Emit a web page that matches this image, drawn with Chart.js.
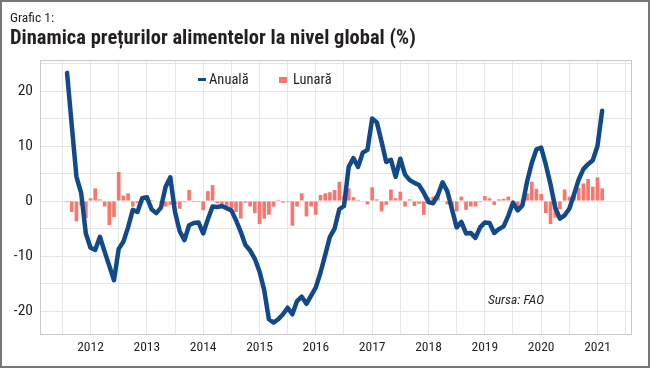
<!DOCTYPE html>
<html lang="ro">
<head>
<meta charset="utf-8">
<script src="https://cdn.jsdelivr.net/npm/chart.js@4.4.1/dist/chart.umd.min.js"></script>
<style>
  html, body { margin: 0; padding: 0; background: #fff; }
  #cadru { position: relative; width: 650px; height: 368px; overflow: hidden;
    font-family: "Roboto Condensed", "DejaVu Sans Condensed", sans-serif; color: #231f20; }
  #cadru div { position: absolute; white-space: nowrap; }
  #grafic { position: absolute; left: 0; top: 0; }
  #margine { left: 0; top: 0; width: 650px; height: 368px; box-sizing: border-box;
    border: 2px solid #767676; pointer-events: none; }
  #eticheta { left: 10px; top: 9px; font-size: 13.5px; line-height: 16px; }
  #titlu { left: 10px; top: 25px; font-size: 20.5px; line-height: 24px; font-weight: bold; }
  .text-legenda { top: 72px; font-size: 14.5px; line-height: 16px; }
  #cheie-linie { left: 198px; top: 77.5px; width: 8px; height: 3.5px; background: #11498a; }
  #cheie-bara { left: 279px; top: 76.5px; width: 7.5px; height: 6.5px; background: #f8766d; }
  #sursa { left: 488px; top: 291px; font-size: 13.5px; line-height: 16px; font-style: italic; }
</style>
</head>
<body>
<div id="cadru">
  <canvas id="grafic" width="650" height="368"></canvas>
  <div id="eticheta">Grafic 1:</div>
  <div id="titlu">Dinamica prețurilor alimentelor la nivel global (%)</div>
  <div id="cheie-linie"></div>
  <div class="text-legenda" style="left:209px">Anuală</div>
  <div id="cheie-bara"></div>
  <div class="text-legenda" style="left:293px">Lunară</div>
  <div id="sursa">Sursa: FAO</div>
  <div id="margine"></div>
</div>
<script>
// luni: august 2011 - februarie 2021
const primaLuna = [2011, 8];
const ultimaLuna = [2021, 2];

// variatie anuala (%)
const anuala = [
  23.3, 13.8, 4.4, 1.5, -5.9,
  -8.5, -8.9, -6.5, -9.2, -11.8, -14.4, -8.7, -7.4, -4.8, -1.6, -2.0, 0.5,
  0.7, -1.5, -2.2, -1.2, 2.6, 4.3, -2.0, -5.5, -7.1, -4.4, -4.0, -3.9,
  -5.9, -3.3, -1.0, -1.1, -0.9, -1.3, -1.7, -3.5, -5.6, -8.0, -9.0, -10.5,
  -12.8, -16.2, -21.5, -22.1, -21.5, -20.6, -19.4, -20.6, -18.2, -17.4, -18.7, -17.2,
  -15.7, -13.0, -9.8, -6.5, -5.0, -1.5, -0.9, 6.2, 7.8, 6.2, 8.8, 9.3,
  15.0, 14.3, 10.8, 7.1, 7.5, 4.4, 7.7, 4.8, 3.8, 3.3, 2.9, 1.5,
  -0.2, -0.4, 1.1, 3.4, 1.8, -1.5, -4.8, -3.8, -5.9, -5.8, -6.7, -4.8,
  -3.9, -4.0, -5.8, -5.1, -4.6, -2.7, -0.3, -1.7, -0.8, 3.5, 6.9, 9.4,
  9.7, 6.6, 3.0, -1.2, -3.2, -2.6, -1.4, 1.2, 3.9, 5.8, 6.7, 7.4,
  10.0, 16.4
];

// variatie lunara (%)
const lunara = [
  -0.2, -2.0, -3.7, -0.8, -3.1,
  0.5, 2.3, 0.3, -1.0, -4.4, -2.9, 5.3, 1.0, 1.4, -1.0, -0.4, -0.3,
  0.2, 0.2, -0.1, -0.3, -1.0, -0.7, -0.6, -1.4, -0.2, 2.0, -0.2, -0.2,
  -1.7, 1.8, 2.9, -0.4, -0.5, -1.0, -1.3, -2.0, -3.2, -0.3, -1.0, -2.2,
  -4.2, -3.2, -2.5, -1.0, 0.2, -0.3, -0.2, -4.5, -1.0, 1.4, -2.8, -1.0,
  -2.5, 1.1, 1.4, 1.6, 2.0, 3.5, 0.9, 2.3, 0.7, 0.2, -0.1, -0.6,
  2.5, 0.3, -1.9, -0.7, 2.1, 0.5, 1.7, -1.0, 0.3, -0.9, -0.5, -2.5,
  0.7, 0.8, 0.9, 0.1, -0.6, -1.4, -1.9, 0.8, -1.6, -1.0, -1.0, -0.2,
  0.9, 0.5, -0.7, 0.3, 0.4, 0.8, -0.3, -1.0, 0.2, 1.4, 3.5, 2.2,
  1.3, -2.2, -4.2, -3.0, -1.5, 2.1, 0.8, 1.5, 2.4, 3.2, 4.0, 2.6,
  4.3, 2.3
];

const ani = ['2012', '2013', '2014', '2015', '2016', '2017', '2018', '2019', '2020', '2021'];
const valoriY = [-20, -10, 0, 10, 20];

const culoareLinie = '#11498a';
const culoareBare = '#f8766d';
const culoareGrila = '#e6e6e6';
const font = '"Roboto Condensed", "DejaVu Sans Condensed", sans-serif';

// pozitia fiecarei luni pe axa (an zecimal)
let luni = [];
let an = primaLuna[0], luna = primaLuna[1];
while (an < ultimaLuna[0] || (an === ultimaLuna[0] && luna <= ultimaLuna[1])) {
    luni.push(an + (luna - 1) / 12);
    luna++;
    if (luna > 12) { luna = 1; an++; }
}

// grila: ani si jumatati de an / din 5 in 5 pe verticala
let ticksX = [];
ani.forEach(a => { ticksX.push(Number(a) - 0.5); ticksX.push(Number(a)); });
ticksX.push(Number(ani[ani.length - 1]) + 0.5);
let ticksY = [];
valoriY.forEach(v => { ticksY.push(v); ticksY.push(v + 5); });
ticksY.sort((a, b) => a - b);

const chenar = {
    id: 'chenar',
    beforeDatasetsDraw(chart) {
        const {ctx, chartArea: a} = chart;
        ctx.save();
        ctx.strokeStyle = '#c9c9c9';
        ctx.lineWidth = 1;
        ctx.strokeRect(a.left + 0.5, a.top + 0.5, a.right - a.left - 1, a.bottom - a.top - 1);
        ctx.restore();
    }
};

new Chart(document.getElementById('grafic'), {
    type: 'bar',
    data: {
        datasets: [
            {
                type: 'line',
                label: 'Anuală',
                data: luni.map((x, i) => ({x: x, y: anuala[i]})),
                borderColor: culoareLinie,
                borderWidth: 4.5,
                pointRadius: 0,
                tension: 0,
                borderJoinStyle: 'round',
                borderCapStyle: 'round'
            },
            {
                label: 'Lunară',
                data: luni.map((x, i) => ({x: x, y: lunara[i]})),
                backgroundColor: culoareBare,
                categoryPercentage: 1,
                barPercentage: 0.78
            }
        ]
    },
    options: {
        responsive: false,
        animation: false,
        layout: { padding: { top: 60, right: 18, bottom: 0, left: 0 } },
        plugins: { legend: { display: false }, tooltip: { enabled: false } },
        scales: {
            x: {
                type: 'linear',
                offset: false,
                min: 2011.103,
                max: 2021.613,
                afterBuildTicks: s => { s.ticks = ticksX.map(v => ({value: v})); },
                afterFit: s => { s.height = 33; },
                grid: { color: culoareGrila, drawTicks: false, offset: false },
                border: { display: false },
                ticks: {
                    autoSkip: false,
                    maxRotation: 0,
                    padding: 5,
                    color: '#231f20',
                    font: { family: font, size: 13.5 },
                    callback: v => ani.includes(String(v)) ? String(v) : ''
                }
            },
            y: {
                min: -24.36,
                max: 25.64,
                afterBuildTicks: s => { s.ticks = ticksY.map(v => ({value: v})); },
                afterFit: s => { s.width = 40; },
                grid: { color: culoareGrila, drawTicks: false },
                border: { display: false },
                ticks: {
                    autoSkip: false,
                    padding: 7,
                    color: '#231f20',
                    font: { family: font, size: 15.5 },
                    callback: v => valoriY.includes(v) ? String(v) : ''
                }
            }
        }
    },
    plugins: [chenar]
});
</script>
</body>
</html>
